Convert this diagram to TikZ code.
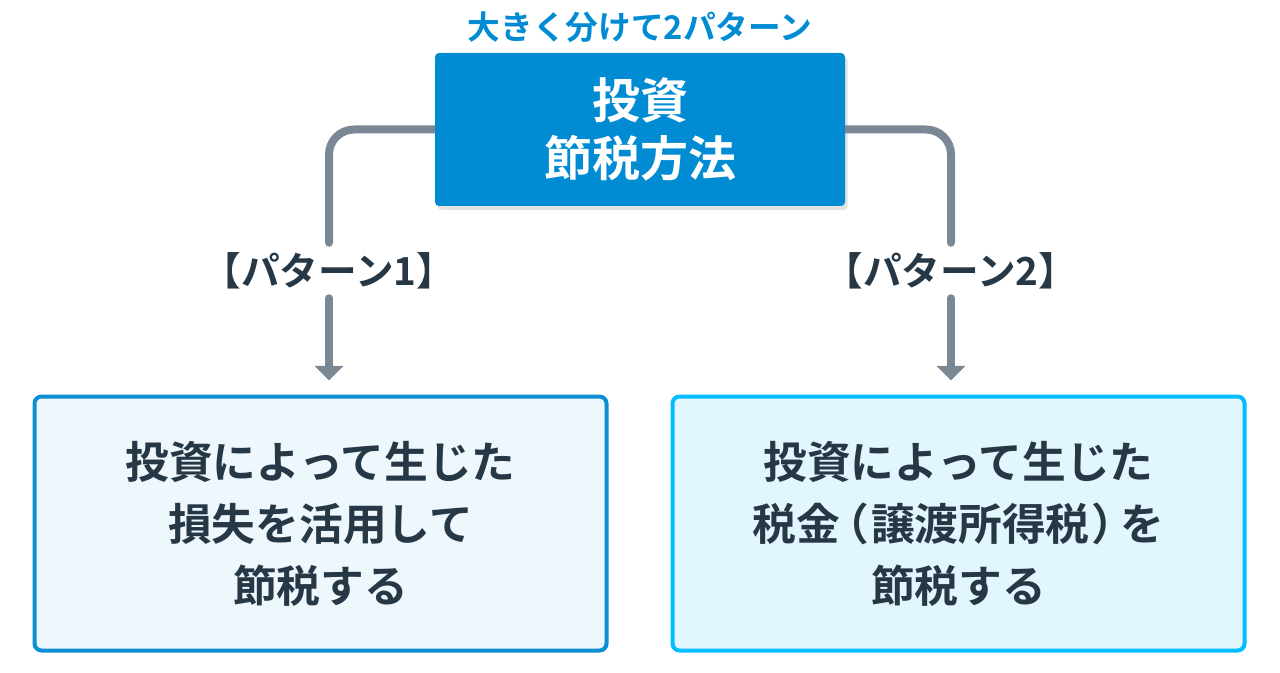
\documentclass[tikz,border=0pt]{standalone}
\usepackage{fontspec}
\setmainfont{Noto Sans CJK JP}[BoldFont={Noto Sans CJK JP Bold}]
\newfontfamily\jppalt{Noto Sans CJK JP}[BoldFont={Noto Sans CJK JP Bold}, RawFeature=+palt]
\usetikzlibrary{arrows.meta,shadows}
\definecolor{topblue}{HTML}{008BD2}
\definecolor{conngray}{HTML}{7A8896}
\definecolor{darktext}{HTML}{263746}
\definecolor{leftborder}{HTML}{0B8ED4}
\definecolor{rightborder}{HTML}{00BEFF}
\definecolor{leftfill}{HTML}{EEF7FC}
\definecolor{rightfill}{HTML}{E2F6FE}
\def\px{0.75pt}
\tikzset{
  topbox/.style={fill=topblue, rounded corners=4*\px, minimum width=410*\px, minimum height=153*\px,
    inner sep=0pt, align=center, text=white, font=\bfseries\fontsize{36pt}{43.5pt}\selectfont,
    drop shadow={opacity=0.22, shadow xshift=2pt, shadow yshift=-3pt}},
  subtitle/.style={text=topblue, font=\bfseries\fontsize{24.5pt}{29pt}\selectfont, inner sep=0pt},
  patlabel/.style={text=darktext, font=\bfseries\fontsize{29pt}{34pt}\selectfont, inner sep=0pt, minimum height=55*\px},
  resbox/.style={line width=3pt, rounded corners=7*\px, minimum width=572*\px, minimum height=254*\px,
    inner sep=0pt, align=center, text=darktext, font=\bfseries\fontsize{32.8pt}{46.5pt}\selectfont},
  conn/.style={draw=conngray, line width=6pt, line cap=round, rounded corners=25*\px},
  connarrow/.style={draw=conngray, line width=6pt, line cap=round, -{Triangle[width=21pt,length=11pt]}, shorten >=14*\px},
}
\begin{document}
\begin{tikzpicture}[x=0.75pt,y=-0.75pt]
\useasboundingbox (0,0) rectangle (1280,673);
\node[subtitle] (sub) at (640,27) {大きく分けて2パターン};
\node[patlabel] (lab1) at (329,270.5) {【パターン1】};
\node[patlabel] (lab2) at (951,270.5) {【パターン2】};
\node[resbox, draw=leftborder, fill=leftfill] (box1) at (320.5,523.5) {投資によって生じた\\損失を活用して\\節税する};
\node[resbox, draw=rightborder, fill=rightfill] (box2) at (958.5,523.5) {投資によって生じた\\税金{\jppalt\kern4pt（\kern3pt}譲渡所得税{\jppalt\kern3pt）\kern4pt}を\\節税する};
\coordinate (c) at (640,129.5);
\draw[conn] (c) -| (lab1.north);
\draw[conn] (c) -| (lab2.north);
\node[topbox] (top) at (640,129.5) {投資\\節税方法};
\draw[connarrow] (lab1.south) -- (lab1.south |- box1.north);
\draw[connarrow] (lab2.south) -- (lab2.south |- box2.north);
\end{tikzpicture}
\end{document}
